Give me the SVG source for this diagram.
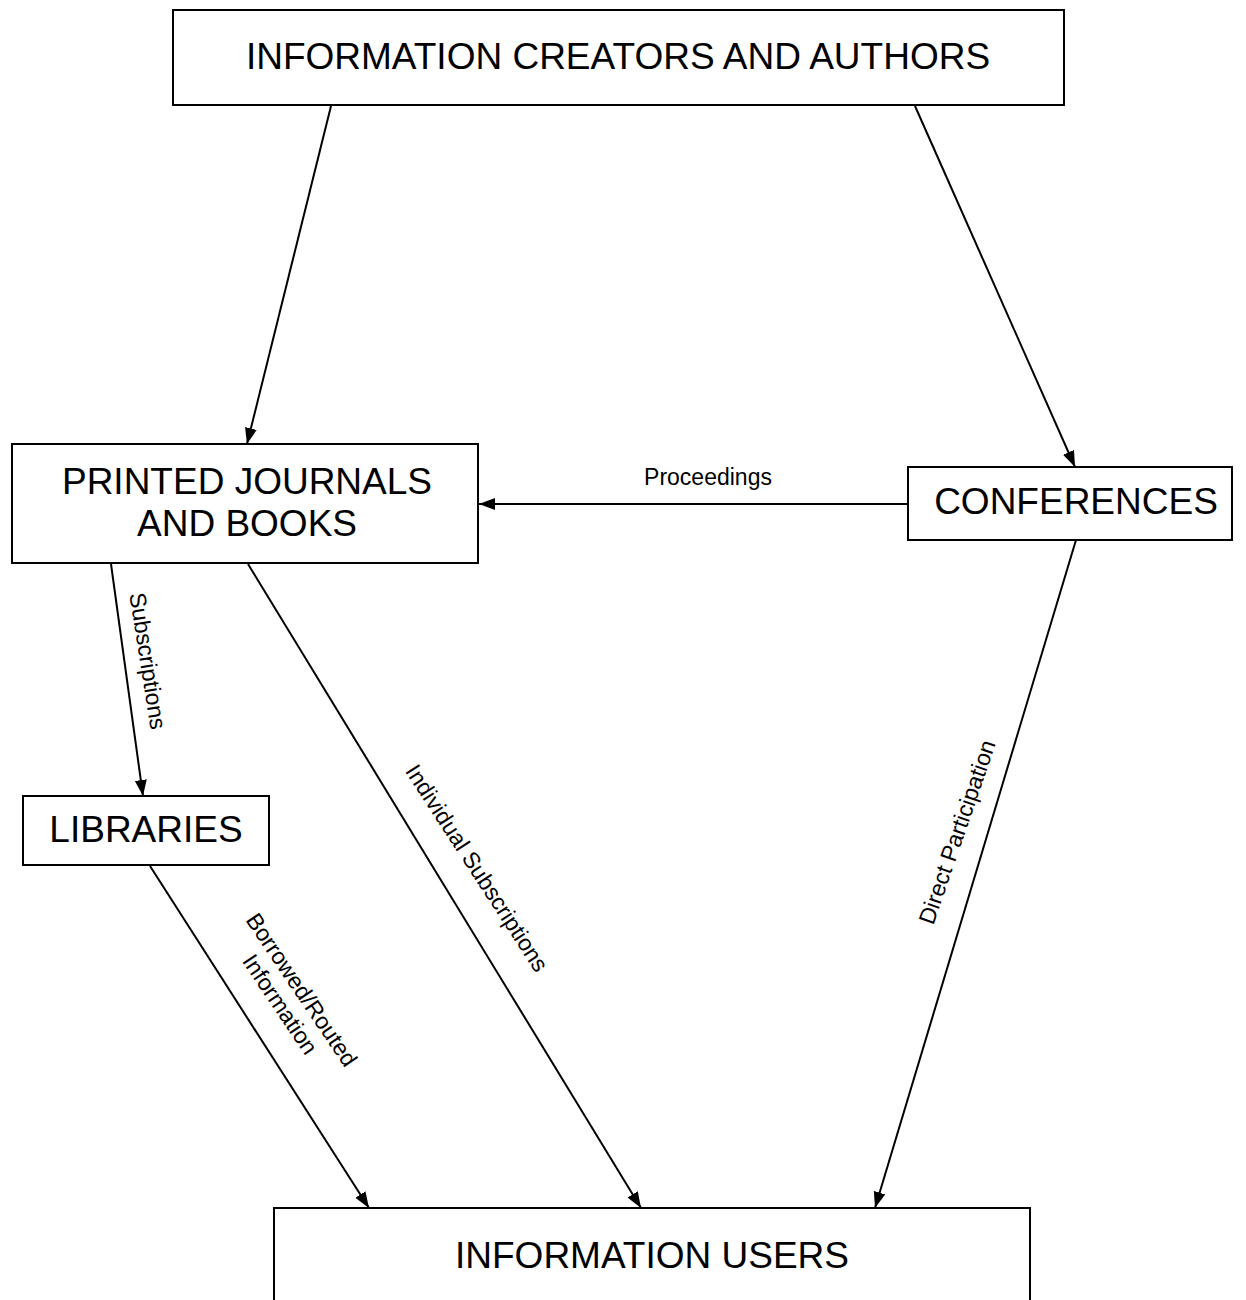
<svg xmlns="http://www.w3.org/2000/svg" width="1246" height="1300" viewBox="0 0 1246 1300">
<defs>
<marker id="arr" markerUnits="userSpaceOnUse" markerWidth="18" markerHeight="14" refX="16" refY="6" orient="auto">
<path d="M0,0 L16,6 L0,12 Z" fill="#000"/>
</marker>
<style>
.box{fill:#fff;stroke:#000;stroke-width:2}
.t{font-family:"Liberation Sans",Arial,sans-serif;font-size:37px;fill:#000;text-anchor:middle}
.l{font-family:"Liberation Sans",Arial,sans-serif;font-size:23px;fill:#000;text-anchor:middle}
.c{fill:none;stroke:#000;stroke-width:2;marker-end:url(#arr)}
</style>
</defs>
<rect width="1246" height="1300" fill="#fff"/>
<g id="connectors">
<line class="c" x1="331" y1="106" x2="247" y2="444"/>
<line class="c" x1="915" y1="106" x2="1075" y2="467"/>
<line class="c" x1="908" y1="504" x2="479" y2="504"/>
<line class="c" x1="111" y1="564" x2="143" y2="796"/>
<line class="c" x1="248" y1="564" x2="641" y2="1208"/>
<line class="c" x1="150" y1="866" x2="369" y2="1208"/>
<line class="c" x1="1076" y1="540" x2="875" y2="1208"/>
<text class="l" x="708" y="485">Proceedings</text>
<text class="l" transform="translate(148,661) rotate(81)" x="0" y="8">Subscriptions</text>
<text class="l" transform="translate(477,868) rotate(57)" x="0" y="8">Individual Subscriptions</text>
<g transform="translate(291,997) rotate(56)">
<text class="l" x="0" y="-5">Borrowed/Routed</text>
<text class="l" x="0" y="21">Information</text>
</g>
<text class="l" transform="translate(957,832) rotate(-71)" x="0" y="8">Direct Participation</text>
</g>
<g id="creators">
<rect class="box" x="173" y="10" width="891" height="95"/>
<text class="t" x="618" y="69">INFORMATION CREATORS AND AUTHORS</text>
</g>
<g id="printed">
<rect class="box" x="12" y="444" width="466" height="119"/>
<text class="t" x="247" y="494">PRINTED JOURNALS</text>
<text class="t" x="247" y="536">AND BOOKS</text>
</g>
<g id="conferences">
<rect class="box" x="908" y="467" width="324" height="73"/>
<text class="t" x="1076" y="514">CONFERENCES</text>
</g>
<g id="libraries">
<rect class="box" x="23" y="796" width="246" height="69"/>
<text class="t" x="146" y="842">LIBRARIES</text>
</g>
<g id="users">
<rect class="box" x="274" y="1208" width="756" height="120"/>
<text class="t" x="652" y="1268">INFORMATION USERS</text>
</g>
</svg>
